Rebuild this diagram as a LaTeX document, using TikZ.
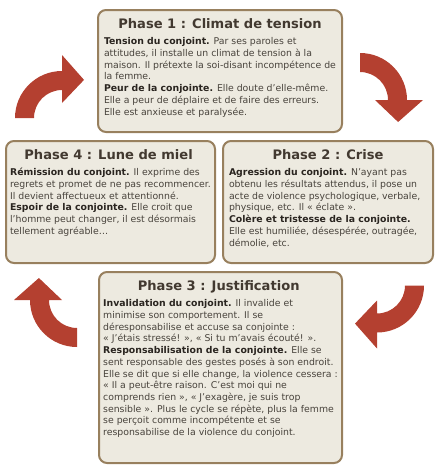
\documentclass[tikz,border=0pt]{standalone}
\usepackage{fontspec}
\setmainfont{DejaVu Sans}
\usetikzlibrary{calc}

\definecolor{rouge}{RGB}{180,64,48}
\definecolor{bordure}{RGB}{152,128,94}
\definecolor{fond}{RGB}{237,234,224}
\definecolor{titre}{RGB}{66,57,48}
\definecolor{texte}{RGB}{72,67,60}
\definecolor{gras}{RGB}{42,37,32}

\newcommand{\ligne}[1]{\hbox{#1}}
\newcommand{\lead}[1]{{\bfseries\color{gras}#1}}
\newcommand{\encadre}[4]{\parbox[c][#2][t]{#1}{\centering{\fontsize{9.8}{11}\selectfont\bfseries\color{titre}#3}\par
  \vspace{3pt}\fontsize{7}{8.8}\selectfont\color{texte}#4}}
% fleche courbe : centre x, centre y, angle de depart
\newcommand{\fleche}[3]{%
  \fill[rouge] ($(#1,#2)+(#3:47)$) arc[start angle=#3, delta angle=90, radius=47]
    -- ($(#1,#2)+(#3+90:63)$) -- ($(#1,#2)+(#3+120:44)$) -- ($(#1,#2)+(#3+90:15)$)
    -- ($(#1,#2)+(#3+90:28)$) arc[start angle=#3+90, delta angle=-90, radius=28] -- cycle;}

\begin{document}
\begin{tikzpicture}[x=0.75pt,y=-0.75pt,
cadre/.style={rectangle,rounded corners=6pt,draw=bordure,line width=1.5pt,fill=fond,inner sep=0pt}]

\useasboundingbox (0,0) rectangle (440,471);

\node[cadre,minimum width=183pt,minimum height=91.5pt](phase1) at (220,71){\encadre{174pt}{78pt}{Phase 1 : Climat de tension}{%
  \ligne{\lead{Tension du conjoint.} Par ses paroles et}
  \ligne{attitudes, il installe un climat de tension à la}
  \ligne{maison. Il prétexte la soi-disant incompétence de}
  \ligne{la femme.}
  \ligne{\lead{Peur de la conjointe.} Elle doute d’elle-même.}
  \ligne{Elle a peur de déplaire et de faire des erreurs.}
  \ligne{Elle est anxieuse et paralysée.}}};

\node[cadre,minimum width=157.5pt,minimum height=91.5pt](phase2) at (328,202){\encadre{148.5pt}{78pt}{Phase 2 : Crise}{%
  \ligne{\lead{Agression du conjoint.} N’ayant pas}
  \ligne{obtenu les résultats attendus, il pose un}
  \ligne{acte de violence psychologique, verbale,}
  \ligne{physique, etc. Il « éclate ».}
  \ligne{\lead{Colère et tristesse de la conjointe.}}
  \ligne{Elle est humiliée, désespérée, outragée,}
  \ligne{démolie, etc.}}};

\node[cadre,minimum width=182.25pt,minimum height=143.25pt](phase3) at (220.5,367.5){\encadre{173.25pt}{129.75pt}{Phase 3 : Justification}{%
  \ligne{\lead{Invalidation du conjoint.} Il invalide et}
  \ligne{minimise son comportement. Il se}
  \ligne{déresponsabilise et accuse sa conjointe :}
  \ligne{« J’étais stressé! », « Si tu m'avais écouté! ».}
  \ligne{\lead{Responsabilisation de la conjointe.} Elle se}
  \ligne{sent responsable des gestes posés à son endroit.}
  \ligne{Elle se dit que si elle change, la violence cessera :}
  \ligne{« Il a peut-être raison. C’est moi qui ne}
  \ligne{comprends rien », « J’exagère, je suis trop}
  \ligne{sensible ». Plus le cycle se répète, plus la femme}
  \ligne{se perçoit comme incompétente et se}
  \ligne{responsabilise de la violence du conjoint.}}};

\node[cadre,minimum width=156.75pt,minimum height=91.5pt](phase4) at (110.5,202){\encadre{147.75pt}{78pt}{Phase 4 : Lune de miel}{%
  \ligne{\lead{Rémission du conjoint.} Il exprime des}
  \ligne{regrets et promet de ne pas recommencer.}
  \ligne{Il devient affectueux et attentionné.}
  \ligne{\lead{Espoir de la conjointe.} Elle croit que}
  \ligne{l’homme peut changer, il est désormais}
  \ligne{tellement agréable…}}};

% les quatre fleches du cycle
\fleche{62}{118}{180}
\fleche{360}{100}{270}
\fleche{377}{285.5}{0}
\fleche{77}{300}{90}

\end{tikzpicture}
\end{document}
